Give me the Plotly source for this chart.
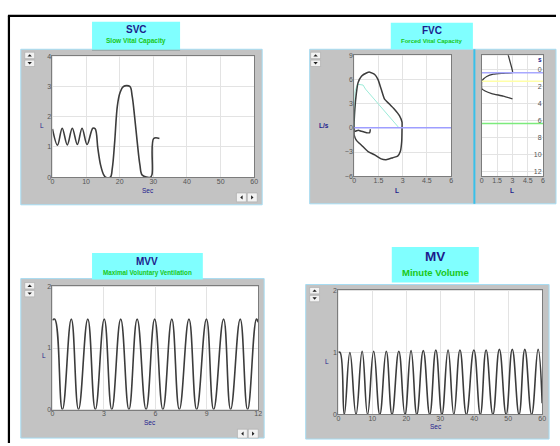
import plotly.graph_objects as go

W, H = 560, 446

# ---- SVC: slow vital capacity, volume (L) against time (s)
svc_time = [0, 1.5, 2.9, 4.4, 5.9, 7.4, 8.8, 10.3, 12.0, 12.7, 13.5, 14.3, 15.2, 15.8,
            17.2, 17.8, 18.5, 19.3, 20.1, 21.1, 23.0, 23.7, 24.4, 25.2, 26.0, 26.7,
            29.1, 29.6, 30.1, 31.8]
svc_volume = [1.6, 1.06, 1.62, 1.07, 1.62, 1.08, 1.62, 1.08, 1.62, 1.6, 0.95, 0.41, 0.09, 0.0,
              0.0, 0.3, 1.17, 2.36, 2.8, 3.0, 3.0, 2.68, 2.03, 1.17, 0.41, 0.07,
              0.0, 0.09, 1.28, 1.28]

# ---- FVC: flow-volume loop
loop_volume = [1.0, 0.96, 0.76, 0.45, 0.25, 0.04, 0.0, 0.04, 0.14, 0.24, 0.45, 0.76, 0.96,
               1.27, 1.47, 1.67, 1.88, 2.18, 2.49, 2.8, 2.96, 2.96, 2.94, 2.86, 2.69, 2.39,
               1.98, 1.67, 1.27, 0.86, 0.45, 0.14, 0.0, 0.0]
loop_flow = [-0.18, -0.6, -0.6, -0.43, -0.3, -0.43, 0.1, 2.3, 4.35, 5.6, 6.4, 6.8, 6.9,
             6.6, 6.0, 4.8, 3.55, 2.95, 2.3, 1.5, 0.7, -0.1, -1.7, -2.9, -3.5, -3.7,
             -3.95, -3.85, -3.35, -2.95, -2.15, -1.55, -0.9, -0.4]
pred_volume = [0, 0.05, 0.2, 0.55, 0.7, 2.75]
pred_flow = [0, 4.5, 5.4, 5.3, 4.8, 0.05]

# ---- FVC: volume-time curve (time runs downward)
vt_volume = [2.58, 3.0, 3.0, 2.1, 1.13, 0.48, 0.16, 0.0, 0.0, 0.32, 0.97, 2.1, 3.0]
vt_time = [-1.73, 0.15, 0.34, 0.42, 0.53, 0.8, 1.1, 1.36, 2.23, 2.5, 2.8, 3.1, 3.43]
event_times = [0.35, 1.35, 6.3]
event_colors = ["#A8A8FF", "#FFFFA8", "#7CEB7C"]

# ---- MVV: maximal voluntary ventilation
mvv_time = [0, 0.13, 0.58, 1.10, 1.52, 2.06, 2.50, 3.02, 3.46, 3.98, 4.46, 4.94, 5.46,
            5.96, 6.44, 6.96, 7.40, 7.96, 8.41, 8.98, 9.40, 9.98, 10.39, 10.95, 11.38,
            11.90, 12.0]
mvv_volume = [1.45, 1.47, 0, 1.47, 0, 1.47, 0, 1.47, 0, 1.47, 0, 1.47, 0,
              1.47, 0, 1.47, 0, 1.47, 0, 1.47, 0, 1.47, 0, 1.47, 0,
              1.47, 1.42]

# ---- MV: minute volume
mv_time = [0, 0.5, 1.75, 3.4, 5.2, 7.0, 8.6, 10.4, 12.2, 14.1, 15.8, 17.8, 19.6, 21.4,
           23.1, 25.0, 26.9, 28.7, 30.5, 32.3, 34.0, 35.8, 37.7, 39.9, 41.8, 43.5,
           45.5, 47.4, 49.4, 51.2, 53.2, 54.9, 56.9, 58.8, 60]
mv_volume = [1.0, 1.0, 0, 1.0, 0, 1.02, 0, 1.02, 0, 1.02, 0, 1.02, 0, 1.03,
             0, 1.03, 0, 1.04, 0, 1.04, 0, 1.04, 0, 1.04, 0, 1.04,
             0, 1.05, 0, 1.05, 0, 1.05, 0, 1.05, 0.18]

svc_ticks = [0, 10, 20, 30, 40, 50, 60]
svc_yticks = [0, 1, 2, 3, 4]
vol_ticks = [0, 1.5, 3, 4.5, 6]
flow_ticks = [-6, -3, 0, 3, 6, 9]
vt_ticks = [0, 2, 4, 6, 8, 10, 12]
mvv_ticks = [0, 3, 6, 9, 12]
mv_ticks = [0, 10, 20, 30, 40, 50, 60]
l2_ticks = [0, 1, 2]


def X(px):
    return px / W


def Y(py):
    return 1 - py / H


TRACE = dict(color="#3c3c3c", width=1.6, shape="spline", smoothing=1.3)

fig = go.Figure()
fig.add_trace(go.Scatter(x=svc_time, y=svc_volume, mode="lines",
                         line=dict(color="#3c3c3c", width=1.6, shape="spline", smoothing=1.0),
                         xaxis="x", yaxis="y"))
fig.add_trace(go.Scatter(x=pred_volume, y=pred_flow, mode="lines",
                         line=dict(color="#9CEBD8", width=1), xaxis="x2", yaxis="y2"))
fig.add_trace(go.Scatter(x=loop_volume, y=loop_flow, mode="lines",
                         line=dict(color="#3c3c3c", width=1.5, shape="spline", smoothing=0.5),
                         xaxis="x2", yaxis="y2"))
fig.add_trace(go.Scatter(x=vt_volume, y=vt_time, mode="lines",
                         line=dict(color="#3c3c3c", width=1.3, shape="spline", smoothing=0.5),
                         xaxis="x3", yaxis="y3"))
fig.add_trace(go.Scatter(x=mvv_time, y=mvv_volume, mode="lines", line=TRACE, xaxis="x4", yaxis="y4"))
fig.add_trace(go.Scatter(x=mv_time, y=mv_volume, mode="lines", line=TRACE, xaxis="x5", yaxis="y5"))

TICKFONT = dict(size=7, color="#555555", family="Liberation Sans")
common = dict(showgrid=True, gridcolor="#E3E3E3", gridwidth=1, zeroline=False,
              showline=True, linecolor="#7c7c7c", linewidth=1, mirror=True, ticks="",
              tickfont=TICKFONT, fixedrange=True)
xcommon = dict(common, ticklabelstandoff=-3)
ycommon = dict(common, ticklabelstandoff=-1)


def xdom(a, b):
    return [X(a), X(b)]


def ydom(top, bottom):
    return [Y(bottom), Y(top)]


fig.update_layout(
    width=W, height=H, margin=dict(l=0, r=0, t=0, b=0),
    paper_bgcolor="white", plot_bgcolor="rgba(0,0,0,0)", showlegend=False,
    xaxis=dict(domain=xdom(51, 255), range=[0, 60], tickvals=svc_ticks, anchor="y", **xcommon),
    yaxis=dict(domain=ydom(53, 176), range=[0, 4], tickvals=svc_yticks, anchor="x", **ycommon),
    xaxis2=dict(domain=xdom(356, 454), range=[0, 6], tickvals=vol_ticks, anchor="y2", **xcommon),
    yaxis2=dict(domain=ydom(52, 175), range=[-6, 9], tickvals=flow_ticks, anchor="x2", **ycommon),
    xaxis3=dict(domain=xdom(485, 547), range=[0, 6], tickvals=vol_ticks, anchor="y3", **xcommon),
    yaxis3=dict(domain=ydom(52, 175), range=[12.5, -1.7], tickvals=vt_ticks, anchor="x3",
                side="right", ticklabelposition="inside", **common),
    xaxis4=dict(domain=xdom(51, 259), range=[0, 12], tickvals=mvv_ticks, anchor="y4", **xcommon),
    yaxis4=dict(domain=ydom(287, 412), range=[0, 2], tickvals=l2_ticks, anchor="x4", **ycommon),
    xaxis5=dict(domain=xdom(340, 546), range=[0, 60], tickvals=mv_ticks, anchor="y5", **xcommon),
    yaxis5=dict(domain=ydom(291, 417), range=[0, 2], tickvals=l2_ticks, anchor="x5", **ycommon),
)

shapes = []


def rect(x0, y0, x1, y1, fill, line=None, width=0, layer="below"):
    shapes.append(dict(type="rect", xref="paper", yref="paper", x0=X(x0), x1=X(x1),
                       y0=Y(y1), y1=Y(y0), fillcolor=fill, layer=layer,
                       line=dict(color=line or fill, width=width)))


def seg(x0, y0, x1, y1, color, width, layer="below"):
    shapes.append(dict(type="line", xref="paper", yref="paper", x0=X(x0), x1=X(x1),
                       y0=Y(y0), y1=Y(y1), layer=layer, line=dict(color=color, width=width)))


def tri(cx, cy, direction):
    s = 2.2
    if direction == "up":
        pts = [(cx - s, cy + 1.2), (cx + s, cy + 1.2), (cx, cy - 1.2)]
    elif direction == "down":
        pts = [(cx - s, cy - 1.2), (cx + s, cy - 1.2), (cx, cy + 1.2)]
    elif direction == "left":
        pts = [(cx + 1.2, cy - s), (cx + 1.2, cy + s), (cx - 1.2, cy)]
    else:
        pts = [(cx - 1.2, cy - s), (cx - 1.2, cy + s), (cx + 1.2, cy)]
    path = "M " + " L ".join(f"{X(a):.5f},{Y(b):.5f}" for a, b in pts) + " Z"
    shapes.append(dict(type="path", xref="paper", yref="paper", path=path,
                       fillcolor="#202020", line=dict(width=0), layer="above"))


def button(x0, y0, x1, y1, direction):
    rect(x0, y0, x1, y1, "#F2F2F2", "#A8A8A8", 0.6, layer="above")
    tri((x0 + x1) / 2, (y0 + y1) / 2, direction)


# panels
PANEL = "#C3C3C3"
EDGE = "#A6DCF2"
rect(19, 46, 263, 204, PANEL, EDGE, 1)
rect(311, 46, 560, 203, PANEL, EDGE, 1)
rect(19, 279, 265, 441, PANEL, EDGE, 1)
rect(307, 285, 553, 442, PANEL, EDGE, 1)
seg(477.5, 46, 477.5, 203, "#38C0EA", 2)

# white plotting areas
for a, b, c, d in [(51, 53, 255, 176), (356, 52, 454, 175), (485, 52, 547, 175),
                   (51, 287, 259, 412), (340, 291, 546, 417)]:
    rect(a, b, c, d, "white")

# title boxes
CYAN = "#80FFFF"
for a, b, c, d in [(91, 18, 180, 47), (393, 19, 476, 46), (91, 253, 203, 280), (394, 247, 482, 283)]:
    rect(a, b, c, d, CYAN)
seg(91, 47, 180, 47, "#9a9a9a", 1)

# outer frame
seg(7, 12, 7, 446, "black", 2.2, layer="above")
seg(6, 12, 560, 12, "black", 2.2, layer="above")

# scroll buttons
for x0, y0 in [(23, 49), (312, 49), (23, 283), (311, 288)]:
    button(x0, y0, x0 + 10, y0 + 6.5, "up")
    button(x0, y0 + 8, x0 + 10, y0 + 14.5, "down")
for x0, y0 in [(237, 192), (238, 432)]:
    button(x0, y0, x0 + 10, y0 + 9, "left")
    button(x0 + 11, y0, x0 + 21, y0 + 9, "right")

# zero-flow line and event markers
shapes.append(dict(type="line", xref="x2", yref="y2", x0=0, x1=6, y0=0, y1=0,
                   line=dict(color="#9E9EFF", width=1.5)))
for t, c in zip(event_times, event_colors):
    shapes.append(dict(type="line", xref="x3", yref="y3", x0=0, x1=6, y0=t, y1=t,
                       line=dict(color=c, width=1.5)))

fig.update_layout(shapes=shapes)

NAVY = "#1C1C8C"
GREEN = "#19C819"
annotations = []


def text(x, y, s, size, color, bold=False, anchor="center"):
    annotations.append(dict(x=X(x), y=Y(y), xref="paper", yref="paper", showarrow=False,
                            text=f"<b>{s}</b>" if bold else s, xanchor=anchor, yanchor="middle",
                            font=dict(size=size, color=color, family="Liberation Sans")))


text(135.5, 25.5, "SVC", 10, NAVY, True)
text(135.5, 38, "Slow Vital Capacity", 6.5, GREEN, True)
text(434.5, 26.5, "FVC", 10, NAVY, True)
text(434.5, 38, "Forced Vital Capacity", 6, GREEN, True)
text(147, 262, "MVV", 10, NAVY, True)
text(147, 273, "Maximal Voluntary Ventilation", 6.3, GREEN, True)
text(438, 257, "MV", 13.5, NAVY, True)
text(438, 272.5, "Minute Volume", 9.5, GREEN, True)

AX = 6.5
text(40, 123, "L", AX, NAVY)
text(148, 189, "Sec", AX, NAVY)
text(325, 123, "L/s", AX, NAVY, True)
text(399, 189, "L", AX, NAVY, True)
text(516, 189, "L", AX, NAVY, True)
text(543.5, 56.5, "s", AX, NAVY, True)
text(42, 357, "L", AX, NAVY)
text(150, 425, "Sec", AX, NAVY)
text(329, 363, "L", AX, NAVY)
text(439, 429, "Sec", AX, NAVY)

# last volume tick of the volume-time plot (the inside time labels suppress it)
annotations.append(dict(x=vol_ticks[-1], y=0, xref="x3", yref="y3 domain", yanchor="top",
                        yshift=1, showarrow=False, text=str(vol_ticks[-1]), font=TICKFONT))

fig.update_layout(annotations=annotations)

fig.write_html("out.html")
